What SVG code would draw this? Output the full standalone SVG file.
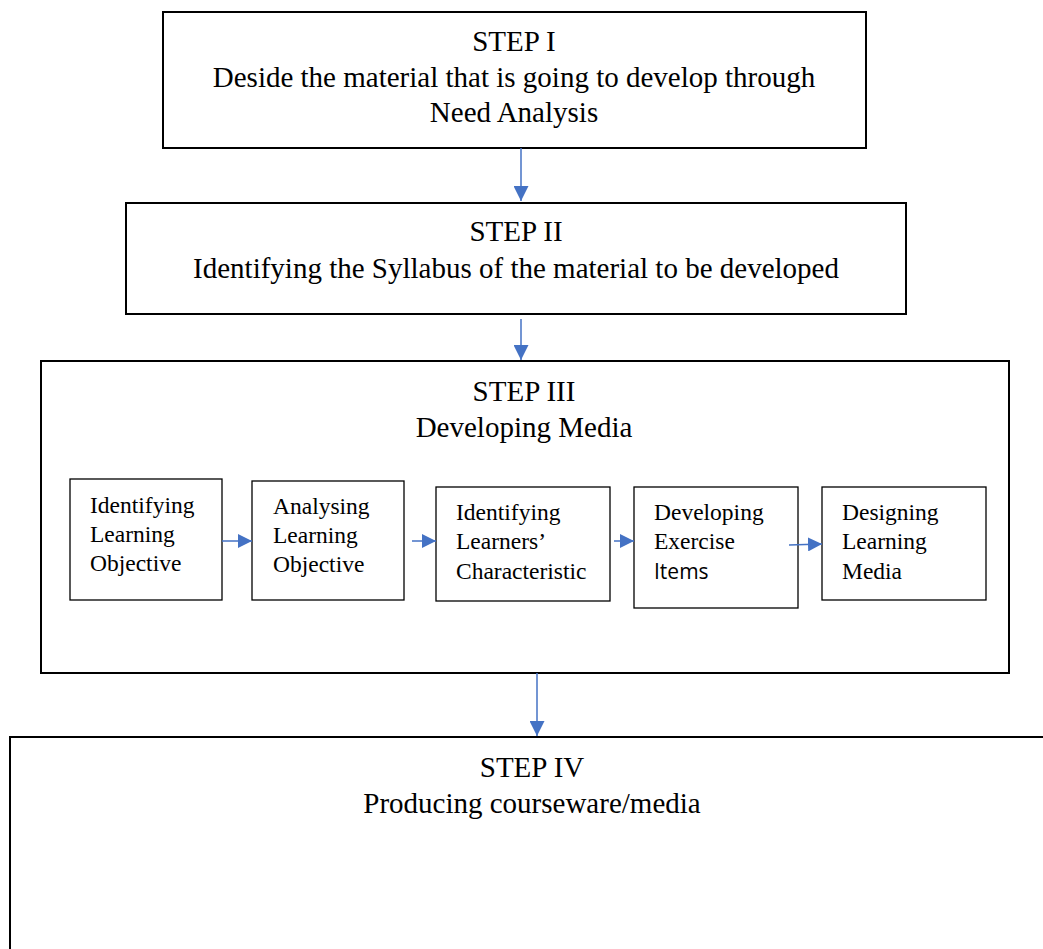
<svg xmlns="http://www.w3.org/2000/svg" width="1043" height="949" viewBox="0 0 1043 949">
<style>
.box{fill:#fff;stroke:#000;stroke-width:2}
.sbox{fill:#fff;stroke:#000;stroke-width:1.3}
.t{font-family:'Liberation Serif',Tinos,'DejaVu Serif','Times New Roman',serif;font-size:29px;fill:#000;text-anchor:middle}
.s{font-family:'Liberation Serif',Tinos,'DejaVu Serif','Times New Roman',serif;font-size:23.5px;fill:#000}
.sans{font-family:'Open Sans','Liberation Sans',sans-serif;font-size:21px;fill:#000}
.c{stroke:#4472C4;stroke-width:1.5;fill:none}
</style>
<defs>
<marker id="ah" viewBox="0 0 10 10" refX="10" refY="5" markerWidth="15" markerHeight="15" markerUnits="userSpaceOnUse" orient="auto">
<path d="M0,0 L10,5 L0,10 z" fill="#4472C4"/>
</marker>
<marker id="ahs" viewBox="0 0 10 10" refX="10" refY="5" markerWidth="14" markerHeight="14" markerUnits="userSpaceOnUse" orient="auto">
<path d="M0,0 L10,5 L0,10 z" fill="#4472C4"/>
</marker>
</defs>
<rect width="1043" height="949" fill="#fff"/>
<g id="step1">
<rect class="box" x="163" y="12" width="703" height="136"/>
<text class="t" x="514" y="51">STEP I</text>
<text class="t" x="514" y="87">Deside the material that is going to develop through</text>
<text class="t" x="514" y="122">Need Analysis</text>
</g>
<g id="step2">
<rect class="box" x="126" y="203" width="780" height="111"/>
<text class="t" x="516" y="241">STEP II</text>
<text class="t" x="516" y="278">Identifying the Syllabus of the material to be developed</text>
</g>
<g id="step3">
<rect class="box" x="41" y="361" width="968" height="312"/>
<text class="t" x="524" y="401">STEP III</text>
<text class="t" x="524" y="437">Developing Media</text>
</g>
<g id="sub1">
<rect class="sbox" x="70" y="479" width="152" height="121"/>
<text class="s" x="90" y="513">Identifying</text>
<text class="s" x="90" y="542">Learning</text>
<text class="s" x="90" y="571">Objective</text>
</g>
<g id="sub2">
<rect class="sbox" x="252" y="481" width="152" height="119"/>
<text class="s" x="273" y="514">Analysing</text>
<text class="s" x="273" y="543">Learning</text>
<text class="s" x="273" y="572">Objective</text>
</g>
<g id="sub3">
<rect class="sbox" x="436" y="487" width="174" height="114"/>
<text class="s" x="456" y="520">Identifying</text>
<text class="s" x="456" y="549">Learners’</text>
<text class="s" x="456" y="579">Characteristic</text>
</g>
<g id="sub4">
<rect class="sbox" x="634" y="487" width="164" height="121"/>
<text class="s" x="654" y="520">Developing</text>
<text class="s" x="654" y="549">Exercise</text>
<text class="sans" x="654" y="579">Items</text>
</g>
<g id="sub5">
<rect class="sbox" x="822" y="487" width="164" height="113"/>
<text class="s" x="842" y="520">Designing</text>
<text class="s" x="842" y="549">Learning</text>
<text class="s" x="842" y="579">Media</text>
</g>
<g id="step4">
<path class="box" d="M1045,737 L10,737 L10,951"/>
<text class="t" x="532" y="777">STEP IV</text>
<text class="t" x="532" y="813">Producing courseware/media</text>
</g>
<g id="connectors">
<line class="c" x1="521" y1="148" x2="521" y2="201" marker-end="url(#ah)"/>
<line class="c" x1="521" y1="319" x2="521" y2="360" marker-end="url(#ah)"/>
<line class="c" x1="537" y1="673" x2="537" y2="736" marker-end="url(#ah)"/>
<line class="c" x1="222" y1="541" x2="252" y2="541" marker-end="url(#ahs)"/>
<line class="c" x1="412" y1="541" x2="436" y2="541" marker-end="url(#ahs)"/>
<line class="c" x1="614" y1="541" x2="634" y2="541" marker-end="url(#ahs)"/>
<line class="c" x1="789" y1="545" x2="822" y2="544" marker-end="url(#ahs)"/>
</g>
</svg>
